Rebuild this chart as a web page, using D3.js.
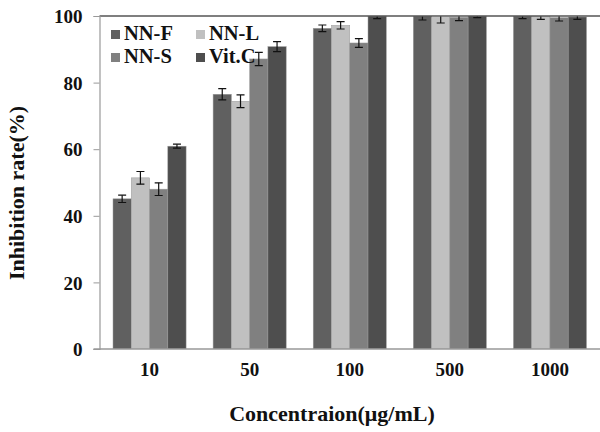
<!DOCTYPE html>
<html lang="en">
<head>
<meta charset="utf-8">
<title>Inhibition rate</title>
<script src="https://cdn.jsdelivr.net/npm/d3@7"></script>
<style>
  body { margin: 0; background: #fff; }
  text { font-family: "Liberation Serif", "Times New Roman", serif; font-weight: bold; fill: #111; }
</style>
</head>
<body>
<div id="chart"></div>
<script>
// data
let concentrations = ["10", "50", "100", "500", "1000"];
let seriesNames = ["NN-F", "NN-L", "NN-S", "Vit.C"];
let nnF  = [45.1, 76.5, 96.3, 100, 100];
let nnL  = [51.4, 74.4, 97.2, 99.5, 99.8];
let nnS  = [48.0, 87.1, 91.9, 99.6, 99.5];
let vitC = [60.9, 90.8, 100, 100, 99.7];
let errF = [1.1, 1.7, 1.0, 1.2, 0.8];
let errL = [1.9, 1.9, 1.1, 1.6, 0.8];
let errS = [1.9, 2.0, 1.3, 1.0, 1.0];
let errC = [0.6, 1.5, 0.8, 0.5, 0.7];
let yTicks = [0, 20, 40, 60, 80, 100];
let colors = ["#606060", "#c0c0c0", "#808080", "#4e4e4e"];

let values = [nnF, nnL, nnS, vitC];
let errors = [errF, errL, errS, errC];

let w = 600, h = 432;
let margin = { top: 16, right: 0, bottom: 83, left: 99.5 };

let svg = d3.select("#chart").append("svg")
    .attr("width", w)
    .attr("height", h);

let x0 = d3.scaleBand()
    .domain(concentrations)
    .range([margin.left, w - margin.right])
    .paddingInner(0.27)
    .paddingOuter(0.135);

let x1 = d3.scaleBand()
    .domain(seriesNames)
    .range([0, x0.bandwidth()]);

let y = d3.scaleLinear()
    .domain([0, 100])
    .range([h - margin.bottom, margin.top]);

let color = d3.scaleOrdinal().domain(seriesNames).range(colors);

// flat list of bars
let rows = [];
concentrations.forEach(function (c, i) {
    seriesNames.forEach(function (s, j) {
        rows.push({ cat: c, name: s, value: values[j][i], err: errors[j][i] });
    });
});

svg.append("clipPath").attr("id", "plotclip")
    .append("rect")
    .attr("x", margin.left)
    .attr("y", margin.top)
    .attr("width", w - margin.left - margin.right)
    .attr("height", h - margin.top - margin.bottom);

let plot = svg.append("g").attr("clip-path", "url(#plotclip)");

// bars
plot.selectAll("rect.bar")
    .data(rows)
    .enter()
    .append("rect")
        .attr("class", "bar")
        .attr("x", d => x0(d.cat) + x1(d.name))
        .attr("y", d => y(d.value))
        .attr("width", x1.bandwidth())
        .attr("height", d => y(0) - y(d.value))
        .attr("fill", d => color(d.name))
        .attr("stroke", "#9a9a9a")
        .attr("stroke-width", 0.5);

// error bars
let eb = plot.selectAll("g.err")
    .data(rows)
    .enter()
    .append("g")
        .attr("class", "err")
        .attr("stroke", "#111")
        .attr("stroke-width", 1.2);

eb.append("line")
    .attr("x1", d => x0(d.cat) + x1(d.name) + x1.bandwidth() / 2)
    .attr("x2", d => x0(d.cat) + x1(d.name) + x1.bandwidth() / 2)
    .attr("y1", d => y(d.value - d.err))
    .attr("y2", d => y(d.value + d.err));

[-1, 1].forEach(function (sgn) {
    eb.append("line")
        .attr("x1", d => x0(d.cat) + x1(d.name) + x1.bandwidth() / 2 - 4)
        .attr("x2", d => x0(d.cat) + x1(d.name) + x1.bandwidth() / 2 + 4)
        .attr("y1", d => y(d.value + sgn * d.err))
        .attr("y2", d => y(d.value + sgn * d.err));
});

// top border
svg.append("line")
    .attr("x1", margin.left).attr("x2", w)
    .attr("y1", y(100)).attr("y2", y(100))
    .attr("stroke", "#555")
    .attr("stroke-width", 1.5);

// y axis
let yAxis = svg.append("g")
    .attr("transform", "translate(" + margin.left + ",0)")
    .call(d3.axisLeft(y).tickValues(yTicks).tickSize(6).tickPadding(11).tickFormat(d3.format("d")));
yAxis.select(".domain").attr("stroke", "#999").attr("stroke-width", 1.2);
yAxis.selectAll(".tick line").attr("stroke", "#999");
yAxis.selectAll("text").style("font-size", "19px").attr("dy", "0.35em");

// x axis
let xAxis = svg.append("g")
    .attr("transform", "translate(0," + y(0) + ")")
    .call(d3.axisBottom(x0).tickSize(0).tickPadding(14));
xAxis.select(".domain").remove();
xAxis.selectAll("text").style("font-size", "19px");
svg.append("line")
    .attr("x1", margin.left - 6).attr("x2", w)
    .attr("y1", y(0)).attr("y2", y(0))
    .attr("stroke", "#999")
    .attr("stroke-width", 1.5);

// axis titles
svg.append("text")
    .attr("x", 332)
    .attr("y", 421)
    .attr("text-anchor", "middle")
    .style("font-size", "22px")
    .text("Concentraion(μg/mL)");

svg.append("text")
    .attr("transform", "translate(24,193) rotate(-90)")
    .attr("text-anchor", "middle")
    .style("font-size", "22px")
    .text("Inhibition rate(%)");

// legend
let legend = svg.append("g");
let items = legend.selectAll("g")
    .data(seriesNames)
    .enter()
    .append("g")
        .attr("transform", (d, i) => "translate(" + (111 + (i % 2) * 85) + "," + (30 + Math.floor(i / 2) * 23) + ")");
items.append("rect")
    .attr("width", 9).attr("height", 9)
    .attr("fill", d => color(d));
items.append("text")
    .attr("x", 13)
    .attr("y", 9.5)
    .style("font-size", "20.5px")
    .text(d => d);
</script>
</body>
</html>
